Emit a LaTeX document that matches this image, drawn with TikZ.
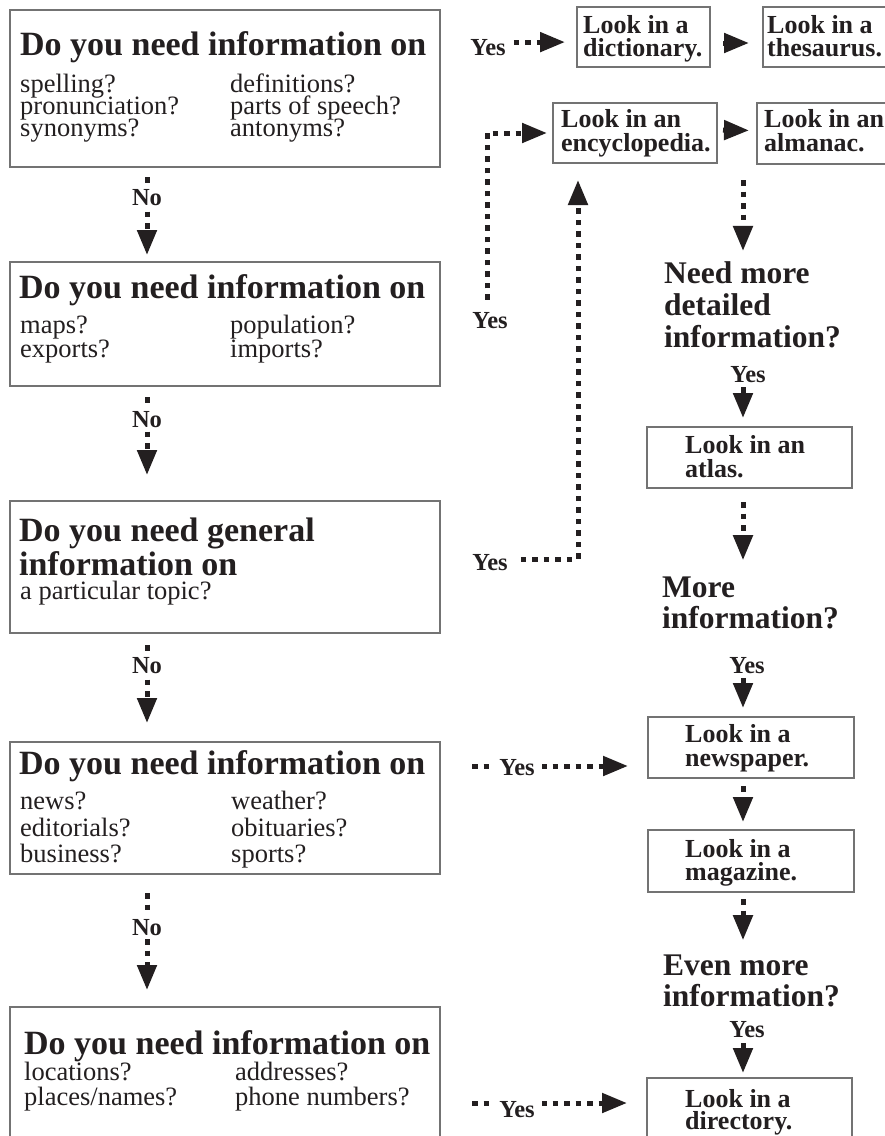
\documentclass[tikz,border=0pt]{standalone}
\usepackage{fontspec}
\setmainfont{Liberation Serif}
\usetikzlibrary{arrows.meta}
\definecolor{ink}{RGB}{35,31,32}
\definecolor{edge}{RGB}{115,115,115}
\pgfdeclarelayer{bg}
\pgfdeclarelayer{conn}
\pgfsetlayers{bg,conn,main}
\tikzset{
 qbox/.style={draw=edge, line width=1.3pt, inner sep=0pt, outer sep=0pt, anchor=north west},
 body/.style={anchor=base west, inner sep=0pt, text=ink, font=\fontsize{26.5}{26.5}\selectfont},
 head/.style={anchor=base west, inner sep=0pt, text=ink, font=\fontsize{34}{34}\selectfont\bfseries},
 lk/.style={anchor=base west, inner sep=0pt, text=ink, font=\fontsize{26}{26}\selectfont\bfseries},
 qtext/.style={anchor=base west, inner sep=0pt, text=ink, font=\fontsize{31.5}{31.5}\selectfont\bfseries},
 lab/.style={anchor=base, inner sep=0pt, text=ink, font=\fontsize{24.5}{24.5}\selectfont\bfseries},
 labw/.style={lab, fill=white, inner ysep=2.5pt, inner xsep=2.5pt},
 labwide/.style={lab, fill=white, inner ysep=2.5pt, inner xsep=7pt},
 dotarrow/.style={draw=ink, line width=5pt, dash pattern=on 5.5pt off 6pt, -{Triangle[length=25pt,width=19pt]}},
 solidarrow/.style={draw=ink, line width=5pt, -{Triangle[length=25pt,width=19pt]}},
}
\begin{document}
\begin{tikzpicture}[x=1pt,y=-1pt]
\useasboundingbox (0,0) rectangle (885,1136);
\begin{pgfonlayer}{bg}
\fill[white] (0,0) rectangle (885,1136);
\end{pgfonlayer}
\clip (0,0) rectangle (885,1136);

% ---------- left column boxes ----------
\node[qbox, minimum width=430pt, minimum height=157pt] (b1) at (10,10) {};
\node[qbox, minimum width=430pt, minimum height=124pt] (b2) at (10,262) {};
\node[qbox, minimum width=430pt, minimum height=132pt] (b3) at (10,501) {};
\node[qbox, minimum width=430pt, minimum height=132pt] (b4) at (10,742) {};
\node[qbox, minimum width=430pt, minimum height=150pt] (b5) at (10,1007) {};

\node[head] (h1) at (20,55) {Do you need information on};
\node[body] (t1a) at (20,92) {spelling?};
\node[body] (t1b) at (230,92) {definitions?};
\node[body] (t1c) at (20,114) {pronunciation?};
\node[body] (t1d) at (230,114) {parts of speech?};
\node[body] (t1e) at (20,136) {synonyms?};
\node[body] (t1f) at (230,136) {antonyms?};

\node[head] (h2) at (19,298) {Do you need information on};
\node[body] (t2a) at (20,333) {maps?};
\node[body] (t2b) at (230,333) {population?};
\node[body] (t2c) at (20,357) {exports?};
\node[body] (t2d) at (230,357) {imports?};

\node[head] (h3a) at (19,541) {Do you need general};
\node[head] (h3b) at (19,575) {information on};
\node[body] (t3a) at (20,599) {a particular topic?};

\node[head] (h4) at (19,774) {Do you need information on};
\node[body] (t4a) at (20,809) {news?};
\node[body] (t4b) at (231,809) {weather?};
\node[body] (t4c) at (20,836) {editorials?};
\node[body] (t4d) at (231,836) {obituaries?};
\node[body] (t4e) at (20,862) {business?};
\node[body] (t4f) at (231,862) {sports?};

\node[head] (h5) at (24,1054) {Do you need information on};
\node[body] (t5a) at (24,1080) {locations?};
\node[body] (t5b) at (235,1080) {addresses?};
\node[body] (t5c) at (24,1105) {places/names?};
\node[body] (t5d) at (235,1105) {phone numbers?};

% ---------- right side boxes ----------
\node[qbox, minimum width=133pt, minimum height=60pt] (dict) at (577,7) {};
\node[qbox, minimum width=140pt, minimum height=60pt] (thes) at (763,7) {};
\node[qbox, minimum width=164pt, minimum height=60pt] (enc) at (553,103) {};
\node[qbox, minimum width=140pt, minimum height=61pt] (alm) at (757,103) {};
\node[qbox, minimum width=205pt, minimum height=61pt] (atlas) at (647,427) {};
\node[qbox, minimum width=206pt, minimum height=61pt] (news) at (648,717) {};
\node[qbox, minimum width=206pt, minimum height=62pt] (mag) at (648,830) {};
\node[qbox, minimum width=205pt, minimum height=80pt] (dir) at (647,1078) {};

\node[lk] (k1a) at (583,33) {Look in a};
\node[lk] (k1b) at (583,56) {dictionary.};
\node[lk] (k2a) at (767,33) {Look in a};
\node[lk] (k2b) at (767,56) {thesaurus.};
\node[lk] (k3a) at (561,127) {Look in an};
\node[lk] (k3b) at (561,151) {encyclopedia.};
\node[lk] (k4a) at (764,127) {Look in an};
\node[lk] (k4b) at (764,151) {almanac.};
\node[lk] (k5a) at (685,453) {Look in an};
\node[lk] (k5b) at (685,477) {atlas.};
\node[lk] (k6a) at (685,742) {Look in a};
\node[lk] (k6b) at (685,766) {newspaper.};
\node[lk] (k7a) at (685,857) {Look in a};
\node[lk] (k7b) at (685,880) {magazine.};
\node[lk] (k8a) at (685,1107) {Look in a};
\node[lk] (k8b) at (685,1129) {directory.};

\node[qtext] (q1a) at (664,283) {Need more};
\node[qtext] (q1b) at (664,315) {detailed};
\node[qtext] (q1c) at (664,347) {information?};
\node[qtext] (q2a) at (662,597) {More};
\node[qtext] (q2b) at (662,628) {information?};
\node[qtext] (q3a) at (663,975) {Even more};
\node[qtext] (q3b) at (663,1006) {information?};

% ---------- labels ----------
\node[labw] (no1) at (147,205) {No};
\node[labw] (no2) at (147,427) {No};
\node[labw] (no3) at (147,673) {No};
\node[labw] (no4) at (147,935) {No};

\node[lab] (yes1) at (488,55) {Yes};
\node[lab] (yes2) at (490,328) {Yes};
\node[lab] (yes3) at (490,570) {Yes};
\node[labwide] (yes4) at (517,775) {Yes};
\node[labwide] (yes5) at (517,1117) {Yes};
\node[lab] (yes6) at (748,382) {Yes};
\node[lab] (yes7) at (747,673) {Yes};
\node[lab] (yes8) at (747,1037) {Yes};

\coordinate (rc) at (743,0);
\coordinate (y1a) at ([yshift=5pt]yes1.east);
\coordinate (y4a) at (472,766);
\coordinate (y5a) at (472,1103);

% ---------- connectors ----------
\begin{pgfonlayer}{conn}
\draw[dotarrow, shorten <=10pt, shorten >=7pt] (no1 |- b1.south) -- (no1 |- b2.north);
\draw[dotarrow, shorten <=11pt, shorten >=26pt] (no2 |- b2.south) -- (no2 |- b3.north);
\draw[dotarrow, shorten <=12pt, shorten >=19pt] (no3 |- b3.south) -- (no3 |- b4.north);
\draw[dotarrow, shorten <=19pt, shorten >=17pt] (no4 |- b4.south) -- (no4 |- b5.north);

\draw[dotarrow, shorten <=8pt, shorten >=12pt] (y1a) -- (y1a -| dict.west);
\draw[solidarrow, shorten <=13pt, shorten >=14pt] ([yshift=-6pt]dict.east) -- ([yshift=-6pt]thes.west);
\draw[solidarrow, shorten <=6pt, shorten >=8pt] ([yshift=3pt]enc.east) -- ([yshift=3pt]alm.west);

\draw[dotarrow, shorten <=12pt, shorten >=6pt] ([xshift=-3pt]yes2.north) |- (enc.west);
\draw[dotarrow, shorten <=13pt, shorten >=17pt] ([yshift=3pt]yes3.east) -| ([xshift=25pt]enc.south west);

\draw[dotarrow, shorten >=20pt] (y4a) -- (y4a -| news.west);
\draw[dotarrow, shorten >=20pt] (y5a) -- (y5a -| dir.west);

\draw[dotarrow, shorten <=16pt, shorten >=10pt] (rc |- alm.south) -- (rc |- q1a.north);
\draw[solidarrow, shorten <=5pt, shorten >=9pt] (rc |- yes6.south) -- (rc |- atlas.north);
\draw[dotarrow, shorten <=14pt, shorten >=16pt] (rc |- atlas.south) -- (rc |- q2a.north);
\draw[solidarrow, shorten <=5pt, shorten >=9pt] (rc |- yes7.south) -- (rc |- news.north);
\draw[dotarrow, shorten <=8pt, shorten >=8pt] (rc |- news.south) -- (rc |- mag.north);
\draw[dotarrow, shorten <=7pt, shorten >=14pt] (rc |- mag.south) -- (rc |- q3a.north);
\draw[solidarrow, shorten <=6pt, shorten >=5pt] (rc |- yes8.south) -- (rc |- dir.north);
\end{pgfonlayer}
\end{tikzpicture}
\end{document}
